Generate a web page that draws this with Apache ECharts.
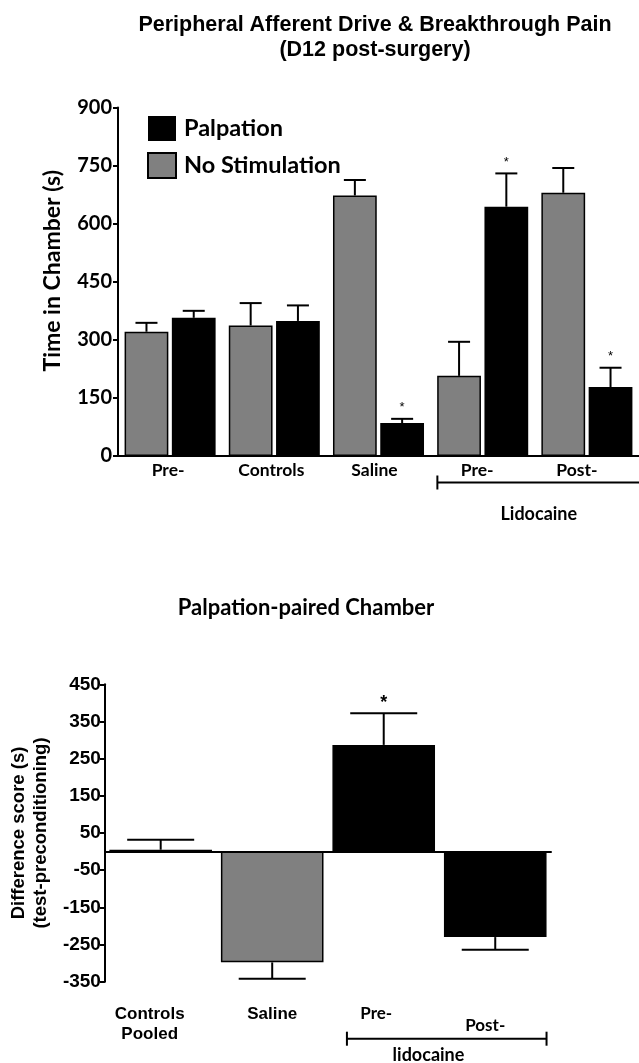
<!DOCTYPE html>
<html><head><meta charset="utf-8">
<script src="https://cdn.jsdelivr.net/npm/echarts@6/dist/echarts.min.js"></script>
<style>html,body{margin:0;padding:0;background:#fff}#c{width:639px;height:1063px}</style>
</head><body><div id="c"></div>
<script>
// ---- data (top chart) ----
const topCategories = ['Pre-', 'Controls', 'Saline', 'Pre-', 'Post-'];
const noStimValues = [321, 337, 673, 207, 680];
const noStimErrors = [23, 58, 40, 88, 64];
const palpValues = [357, 349, 85, 644, 178];
const palpErrors = [18, 40, 11, 86, 50];
const palpSig = [0, 0, 1, 1, 1];
// ---- data (bottom chart) ----
const bottomCategories = ['Controls\nPooled', 'Saline', 'Pre-', 'Post-'];
const diffValues = [5, -298, 287, -230];
const diffErrors = [27, 44, 85, 34];
const diffSig = [0, 0, 1, 0];

const GOTHIC = 'Lato';
const ARIAL = 'Liberation Sans';
const GRAY = '#808080';

function makeErr(offset, capW, sigFont, sigGap) {
  return function (params, api) {
    const i = api.value(0), v = api.value(1), e = api.value(2), s = api.value(3);
    const band = api.size([1, 0])[0];
    const p0 = api.coord([i, v]);
    const p1 = api.coord([i, v >= 0 ? v + e : v - e]);
    const x = p0[0] + offset * band;
    const st = { stroke: '#000', lineWidth: 2 };
    const ch = [
      { type: 'line', shape: { x1: x, y1: p0[1], x2: x, y2: p1[1] }, style: st },
      { type: 'line', shape: { x1: x - capW / 2, y1: p1[1], x2: x + capW / 2, y2: p1[1] }, style: st }
    ];
    if (s) ch.push({ type: 'text', style: { text: '*', x: x, y: p1[1] - sigGap, align: 'center', verticalAlign: 'middle', font: sigFont, fill: '#000' } });
    return { type: 'group', children: ch };
  };
}
const OFF = 0.2268;
const bottomColors = ['#ffffff', GRAY, '#000000', '#000000'];

const chart = echarts.init(document.getElementById('c'), null, { renderer: 'canvas' });
const axisLineStyle = { color: '#000', width: 2 };
const option = {
  animation: false,
  backgroundColor: '#fff',
  title: [
    { text: 'Peripheral Afferent Drive & Breakthrough Pain\n(D12 post-surgery)', left: 370, top: 8, textAlign: 'center',
      textStyle: { fontFamily: ARIAL, fontWeight: 'bold', fontSize: 21.5, lineHeight: 25, color: '#000' } },
    { text: 'Palpation-paired Chamber', left: 301, top: 592, textAlign: 'center',
      textStyle: { fontFamily: GOTHIC, fontWeight: 'bold', fontSize: 22, color: '#000' } }
  ],
  legend: {
    data: ['Palpation', 'No Stimulation'], orient: 'vertical', left: 142, top: 111,
    itemWidth: 28, itemHeight: 25, itemGap: 11, icon: 'rect', selectedMode: false,
    textStyle: { fontFamily: GOTHIC, fontWeight: 'bold', fontSize: 23.5, color: '#000', padding: [0, 0, 0, 3] }
  },
  grid: [
    { left: 118, top: 107.6, width: 522, height: 348.4 },
    { left: 103, top: 684.3, width: 448, height: 297.4 }
  ],
  xAxis: [
    { type: 'category', gridIndex: 0, data: topCategories,
      axisLine: { lineStyle: axisLineStyle }, axisTick: { show: false },
      axisLabel: { margin: 5, interval: 0, hideOverlap: false, fontFamily: GOTHIC, fontWeight: 'bold', fontSize: 17.5, color: '#000',
        formatter: function (v, i) { return '{t' + i + '|' + v + '}'; },
        rich: {
          t0: { padding: [0, 4, 0, 0] }, t1: { padding: [0, 6, 0, 0] }, t2: { padding: [0, 8, 0, 0] },
          t3: { padding: [0, 11, 0, 0] }, t4: { padding: [0, 20, 0, 0] }
        } } },
    { type: 'category', gridIndex: 1, data: bottomCategories,
      axisLine: { onZero: true, lineStyle: axisLineStyle }, axisTick: { show: false }, axisLabel: { show: false } },
    { type: 'category', gridIndex: 1, data: bottomCategories, position: 'bottom',
      axisLine: { show: false, onZero: false }, axisTick: { show: false },
      axisLabel: { margin: 23, interval: 0, hideOverlap: false,
        formatter: function (v, i) { return '{g' + i + '|' + v + '}'; },
        rich: {
          g0: { fontFamily: ARIAL, fontWeight: 'bold', fontSize: 17, lineHeight: 20, color: '#000', padding: [0, 22, 0, 0] },
          g1: { fontFamily: ARIAL, fontWeight: 'bold', fontSize: 17, lineHeight: 20, color: '#000' },
          g2: { fontFamily: GOTHIC, fontWeight: 'bold', fontSize: 17, color: '#000', padding: [0, 15, 0, 0] },
          g3: { fontFamily: GOTHIC, fontWeight: 'bold', fontSize: 17, color: '#000', padding: [12, 20, 0, 0] }
        } } }
  ],
  yAxis: [
    { type: 'value', gridIndex: 0, min: 0, max: 900, interval: 150,
      name: 'Time in Chamber (s)', nameLocation: 'middle', nameGap: 54,
      nameTextStyle: { fontFamily: GOTHIC, fontWeight: 'bold', fontSize: 23, color: '#000', padding: [0, 0, 0, 22] },
      axisLine: { show: true, lineStyle: axisLineStyle }, axisTick: { show: true, length: 5, lineStyle: axisLineStyle },
      splitLine: { show: false },
      axisLabel: { margin: 6, fontFamily: GOTHIC, fontWeight: 'bold', fontSize: 20, color: '#000' } },
    { type: 'value', gridIndex: 1, min: -350, max: 450, interval: 100,
      name: 'Difference score (s)\n(test-preconditioning)', nameLocation: 'middle', nameGap: 51,
      nameTextStyle: { fontFamily: ARIAL, fontWeight: 'bold', fontSize: 18.5, lineHeight: 22, color: '#000' },
      axisLine: { show: true, onZero: false, lineStyle: axisLineStyle }, axisTick: { show: true, length: 5, lineStyle: axisLineStyle },
      splitLine: { show: false },
      axisLabel: { margin: 4, fontFamily: ARIAL, fontWeight: 'bold', fontSize: 19, color: '#000' } }
  ],
  series: [
    { name: 'No Stimulation', type: 'bar', xAxisIndex: 0, yAxisIndex: 0, data: noStimValues,
      barWidth: '42%', barGap: '8%', itemStyle: { color: GRAY, borderColor: '#000', borderWidth: 1.5 } },
    { name: 'Palpation', type: 'bar', xAxisIndex: 0, yAxisIndex: 0, data: palpValues,
      barWidth: '42%', barGap: '8%', itemStyle: { color: '#000' } },
    { type: 'custom', xAxisIndex: 0, yAxisIndex: 0, z: 5,
      data: noStimValues.map((v, i) => [i, v, noStimErrors[i], 0]),
      renderItem: makeErr(-OFF, 22, '12px ' + ARIAL, 10) },
    { type: 'custom', xAxisIndex: 0, yAxisIndex: 0, z: 5,
      data: palpValues.map((v, i) => [i, v, palpErrors[i], palpSig[i]]),
      renderItem: makeErr(OFF, 22, '13px ' + ARIAL, 11) },
    { type: 'bar', xAxisIndex: 1, yAxisIndex: 1, barCategoryGap: '8%',
      data: diffValues.map((v, i) => ({ value: v, itemStyle: { color: bottomColors[i], borderColor: '#000', borderWidth: 1.5 } })) },
    { type: 'custom', xAxisIndex: 1, yAxisIndex: 1, z: 5,
      data: diffValues.map((v, i) => [i, v, diffErrors[i], diffSig[i]]),
      renderItem: makeErr(0, 67, 'bold 18px ' + ARIAL, 10) }
  ]
};
chart.setOption(option);

// brackets (annotations) positioned from the axes
const c0 = chart.convertToPixel({ xAxisIndex: 0 }, 3);
const c1 = chart.convertToPixel({ xAxisIndex: 0 }, 4);
const bandT = c1 - c0;
const yT = chart.convertToPixel({ yAxisIndex: 0 }, 0);
const b0 = chart.convertToPixel({ xAxisIndex: 1 }, 2);
const b1 = chart.convertToPixel({ xAxisIndex: 1 }, 3);
const bandB = b1 - b0;
const yB = chart.convertToPixel({ yAxisIndex: 1 }, -350);
const ls = { stroke: '#000', lineWidth: 2 };
const tL = c0 - 0.435 * bandT, tR = c1 + 0.5 * bandT, tY = yT + 26.5;
const bL = b0 - 0.33 * bandB, bR = b1 + 0.46 * bandB, bY = yB + 57;
chart.setOption({
  graphic: [
    { type: 'line', shape: { x1: tL, y1: tY, x2: tR, y2: tY }, style: ls },
    { type: 'line', shape: { x1: tL, y1: tY - 7, x2: tL, y2: tY + 7 }, style: ls },
    { type: 'text', style: { text: 'Lidocaine', x: (c0 + c1) / 2 + 4, y: tY + 32, align: 'center', verticalAlign: 'middle',
      font: 'bold 18px ' + GOTHIC, fill: '#000' } },
    { type: 'line', shape: { x1: bL, y1: bY, x2: bR, y2: bY }, style: ls },
    { type: 'line', shape: { x1: bL, y1: bY - 7, x2: bL, y2: bY + 7 }, style: ls },
    { type: 'line', shape: { x1: bR, y1: bY - 7, x2: bR, y2: bY + 7 }, style: ls },
    { type: 'text', style: { text: 'lidocaine', x: (b0 + b1) / 2 - 11, y: bY + 16, align: 'center', verticalAlign: 'middle',
      font: 'bold 18px ' + GOTHIC, fill: '#000' } }
  ]
});
</script></body></html>
